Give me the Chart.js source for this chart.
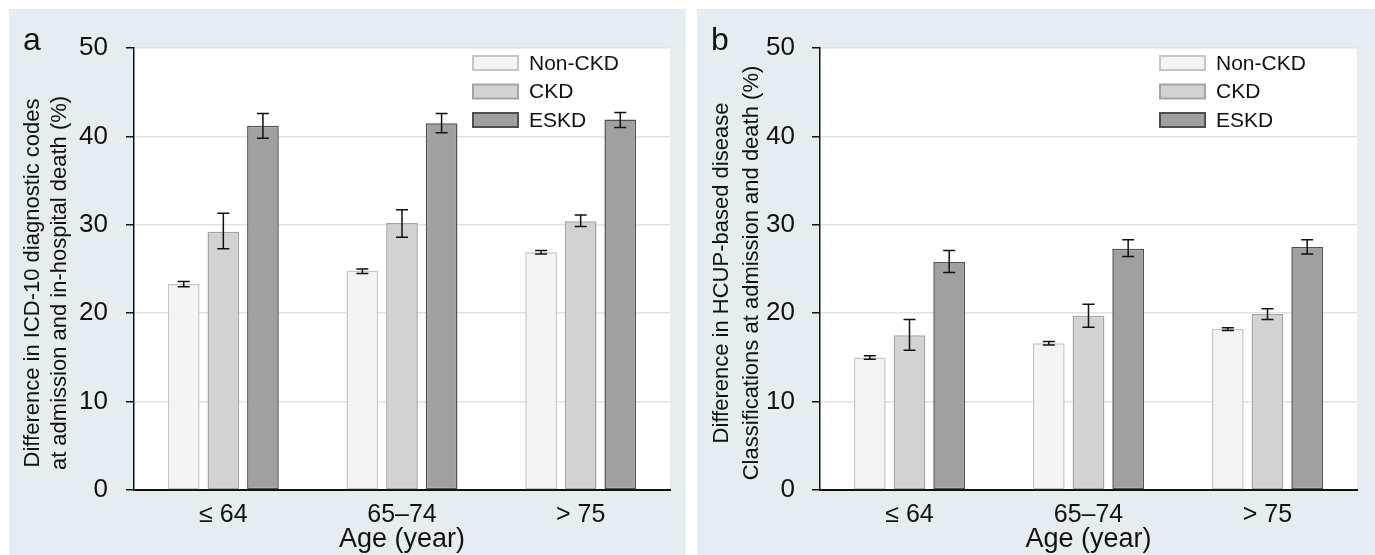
<!DOCTYPE html>
<html>
<head>
<meta charset="utf-8">
<script src="https://cdn.jsdelivr.net/npm/chart.js@4.4.1/dist/chart.umd.min.js"></script>
<style>
  html, body { margin: 0; padding: 0; background: #ffffff; width: 1375px; height: 555px; overflow: hidden; }
  .panel { position: absolute; background: #e6edf0; }
  #pa { left: 9px; top: 9px; width: 677px; height: 546px; }
  #pb { left: 697px; top: 9px; width: 678px; height: 546px; }
  canvas { display: block; }
</style>
</head>
<body>
<div class="panel" id="pa"><canvas id="ca" width="677" height="546"></canvas></div>
<div class="panel" id="pb"><canvas id="cb" width="678" height="546"></canvas></div>
<script>
// ---- Data ----
const categories = ['≤ 64', '65–74', '> 75'];
const seriesNames = ['Non-CKD', 'CKD', 'ESKD'];
const yTicks = [0, 10, 20, 30, 40, 50];

// Panel a: ICD-10 diagnostic codes
const nonCkdA = [23.3, 24.8, 26.9];
const nonCkdA_lo = [23.0, 24.5, 26.7];
const nonCkdA_hi = [23.6, 25.0, 27.1];
const ckdA = [29.2, 30.2, 30.4];
const ckdA_lo = [27.3, 28.6, 29.8];
const ckdA_hi = [31.3, 31.7, 31.1];
const eskdA = [41.2, 41.5, 41.9];
const eskdA_lo = [39.8, 40.4, 41.0];
const eskdA_hi = [42.6, 42.6, 42.7];

// Panel b: HCUP-based disease classifications
const nonCkdB = [15.0, 16.6, 18.2];
const nonCkdB_lo = [14.8, 16.4, 18.05];
const nonCkdB_hi = [15.2, 16.8, 18.35];
const ckdB = [17.5, 19.7, 19.9];
const ckdB_lo = [15.8, 18.4, 19.3];
const ckdB_hi = [19.3, 21.0, 20.5];
const eskdB = [25.8, 27.3, 27.5];
const eskdB_lo = [24.6, 26.4, 26.7];
const eskdB_hi = [27.1, 28.3, 28.3];

// ---- Styles ----
const FONT = '"Liberation Sans", Arial, Helvetica, sans-serif';
const fills = ['#f4f4f4', '#d2d2d2', '#a0a0a0'];
const borders = ['#c6c6c6', '#a4a4a4', '#505050'];

function makeChart(canvasId, cfg) {
  const datasets = cfg.values.map((vals, i) => ({
    label: seriesNames[i],
    data: vals,
    lo: cfg.lo[i],
    hi: cfg.hi[i],
    backgroundColor: fills[i],
    borderColor: borders[i],
    borderWidth: 1.5,
    borderSkipped: false,
    categoryPercentage: 0.665,
    barPercentage: 0.8
  }));

  const panelPlugin = {
    id: 'panelDecor',
    beforeDraw(chart) {
      const {ctx, chartArea: a} = chart;
      ctx.save();
      ctx.fillStyle = '#ffffff';
      ctx.fillRect(a.left, a.top, a.right - a.left, a.bottom - a.top);
      ctx.restore();
    },
    afterDatasetsDraw(chart) {
      const {ctx} = chart;
      const ys = chart.scales.y;
      ctx.save();
      ctx.strokeStyle = '#111111';
      ctx.lineWidth = 1.5;
      chart.data.datasets.forEach((ds, di) => {
        const meta = chart.getDatasetMeta(di);
        meta.data.forEach((el, i) => {
          const x = el.x;
          const y1 = ys.getPixelForValue(ds.lo[i]);
          const y2 = ys.getPixelForValue(ds.hi[i]);
          const cw = 6;
          ctx.beginPath();
          ctx.moveTo(x, y1); ctx.lineTo(x, y2);
          ctx.moveTo(x - cw, y1); ctx.lineTo(x + cw, y1);
          ctx.moveTo(x - cw, y2); ctx.lineTo(x + cw, y2);
          ctx.stroke();
        });
      });
      ctx.restore();
    },
    afterDraw(chart) {
      const {ctx, chartArea: a} = chart;
      ctx.save();
      ctx.fillStyle = '#111111';
      // Panel letter
      ctx.font = '32px ' + FONT;
      ctx.textAlign = 'left';
      ctx.textBaseline = 'alphabetic';
      ctx.fillText(cfg.letter, cfg.letterX, 41);
      // Y title (two lines, rotated)
      ctx.font = '22px ' + FONT;
      ctx.textAlign = 'center';
      ctx.textBaseline = 'middle';
      const cy = (a.top + a.bottom) / 2 + cfg.yTitleDy;
      cfg.yTitle.forEach((line, k) => {
        ctx.save();
        ctx.translate(cfg.yTitleX[k], cy);
        ctx.rotate(-Math.PI / 2);
        ctx.fillText(line, 0, 0);
        ctx.restore();
      });
      // X title
      ctx.font = '27px ' + FONT;
      ctx.textAlign = 'center';
      ctx.textBaseline = 'middle';
      ctx.fillText('Age (year)', (a.left + a.right) / 2, 531);
      // Legend
      ctx.font = '21px ' + FONT;
      ctx.textAlign = 'left';
      ctx.textBaseline = 'middle';
      const lx = a.right - 197;
      seriesNames.forEach((name, i) => {
        const yc = 54 + i * 28.5;
        ctx.fillStyle = fills[i];
        ctx.fillRect(lx, yc - 7, 45, 14);
        ctx.strokeStyle = borders[i];
        ctx.lineWidth = 2;
        ctx.strokeRect(lx, yc - 7, 45, 14);
        ctx.fillStyle = '#111111';
        ctx.fillText(name, lx + 56, yc + 1);
      });
      ctx.restore();
    }
  };

  return new Chart(document.getElementById(canvasId), {
    type: 'bar',
    data: { labels: categories, datasets },
    options: {
      responsive: false,
      animation: false,
      layout: { padding: { left: 0, top: 39, right: cfg.padRight, bottom: 0 } },
      plugins: { legend: { display: false }, tooltip: { enabled: false } },
      scales: {
        x: {
          grid: { display: false },
          border: { display: true, color: '#111111', width: 2 },
          ticks: { color: '#111111', font: { family: FONT, size: 25 }, padding: 2 },
          afterFit(scale) { scale.height = 65; }
        },
        y: {
          min: 0, max: 50,
          afterBuildTicks(scale) { scale.ticks = yTicks.map(v => ({ value: v })); },
          grid: { color: '#e2e2e2', lineWidth: 1.5, drawTicks: true, tickLength: 8, tickColor: '#111111', tickWidth: 1.5 },
          border: { display: true, color: '#111111', width: 1.5 },
          ticks: { color: '#111111', font: { family: FONT, size: 26 }, padding: cfg.tickPad },
          afterFit(scale) { scale.width = cfg.yWidth; }
        }
      }
    },
    plugins: [panelPlugin]
  });
}

makeChart('ca', {
  values: [nonCkdA, ckdA, eskdA],
  lo: [nonCkdA_lo, ckdA_lo, eskdA_lo],
  hi: [nonCkdA_hi, ckdA_hi, eskdA_hi],
  letter: 'a', letterX: 14,
  yTitle: ['Difference in ICD-10 diagnostic codes', 'at admission and in-hospital death (%)'],
  yTitleX: [24, 51], yTitleDy: 14,
  yWidth: 125, padRight: 16, tickPad: 18
});

makeChart('cb', {
  values: [nonCkdB, ckdB, eskdB],
  lo: [nonCkdB_lo, ckdB_lo, eskdB_lo],
  hi: [nonCkdB_hi, ckdB_hi, eskdB_hi],
  letter: 'b', letterX: 14,
  yTitle: ['Difference in HCUP-based disease', 'Classifications at admission and death (%)'],
  yTitleX: [25, 55], yTitleDy: 4,
  yWidth: 123, padRight: 18, tickPad: 17
});
</script>
</body>
</html>
